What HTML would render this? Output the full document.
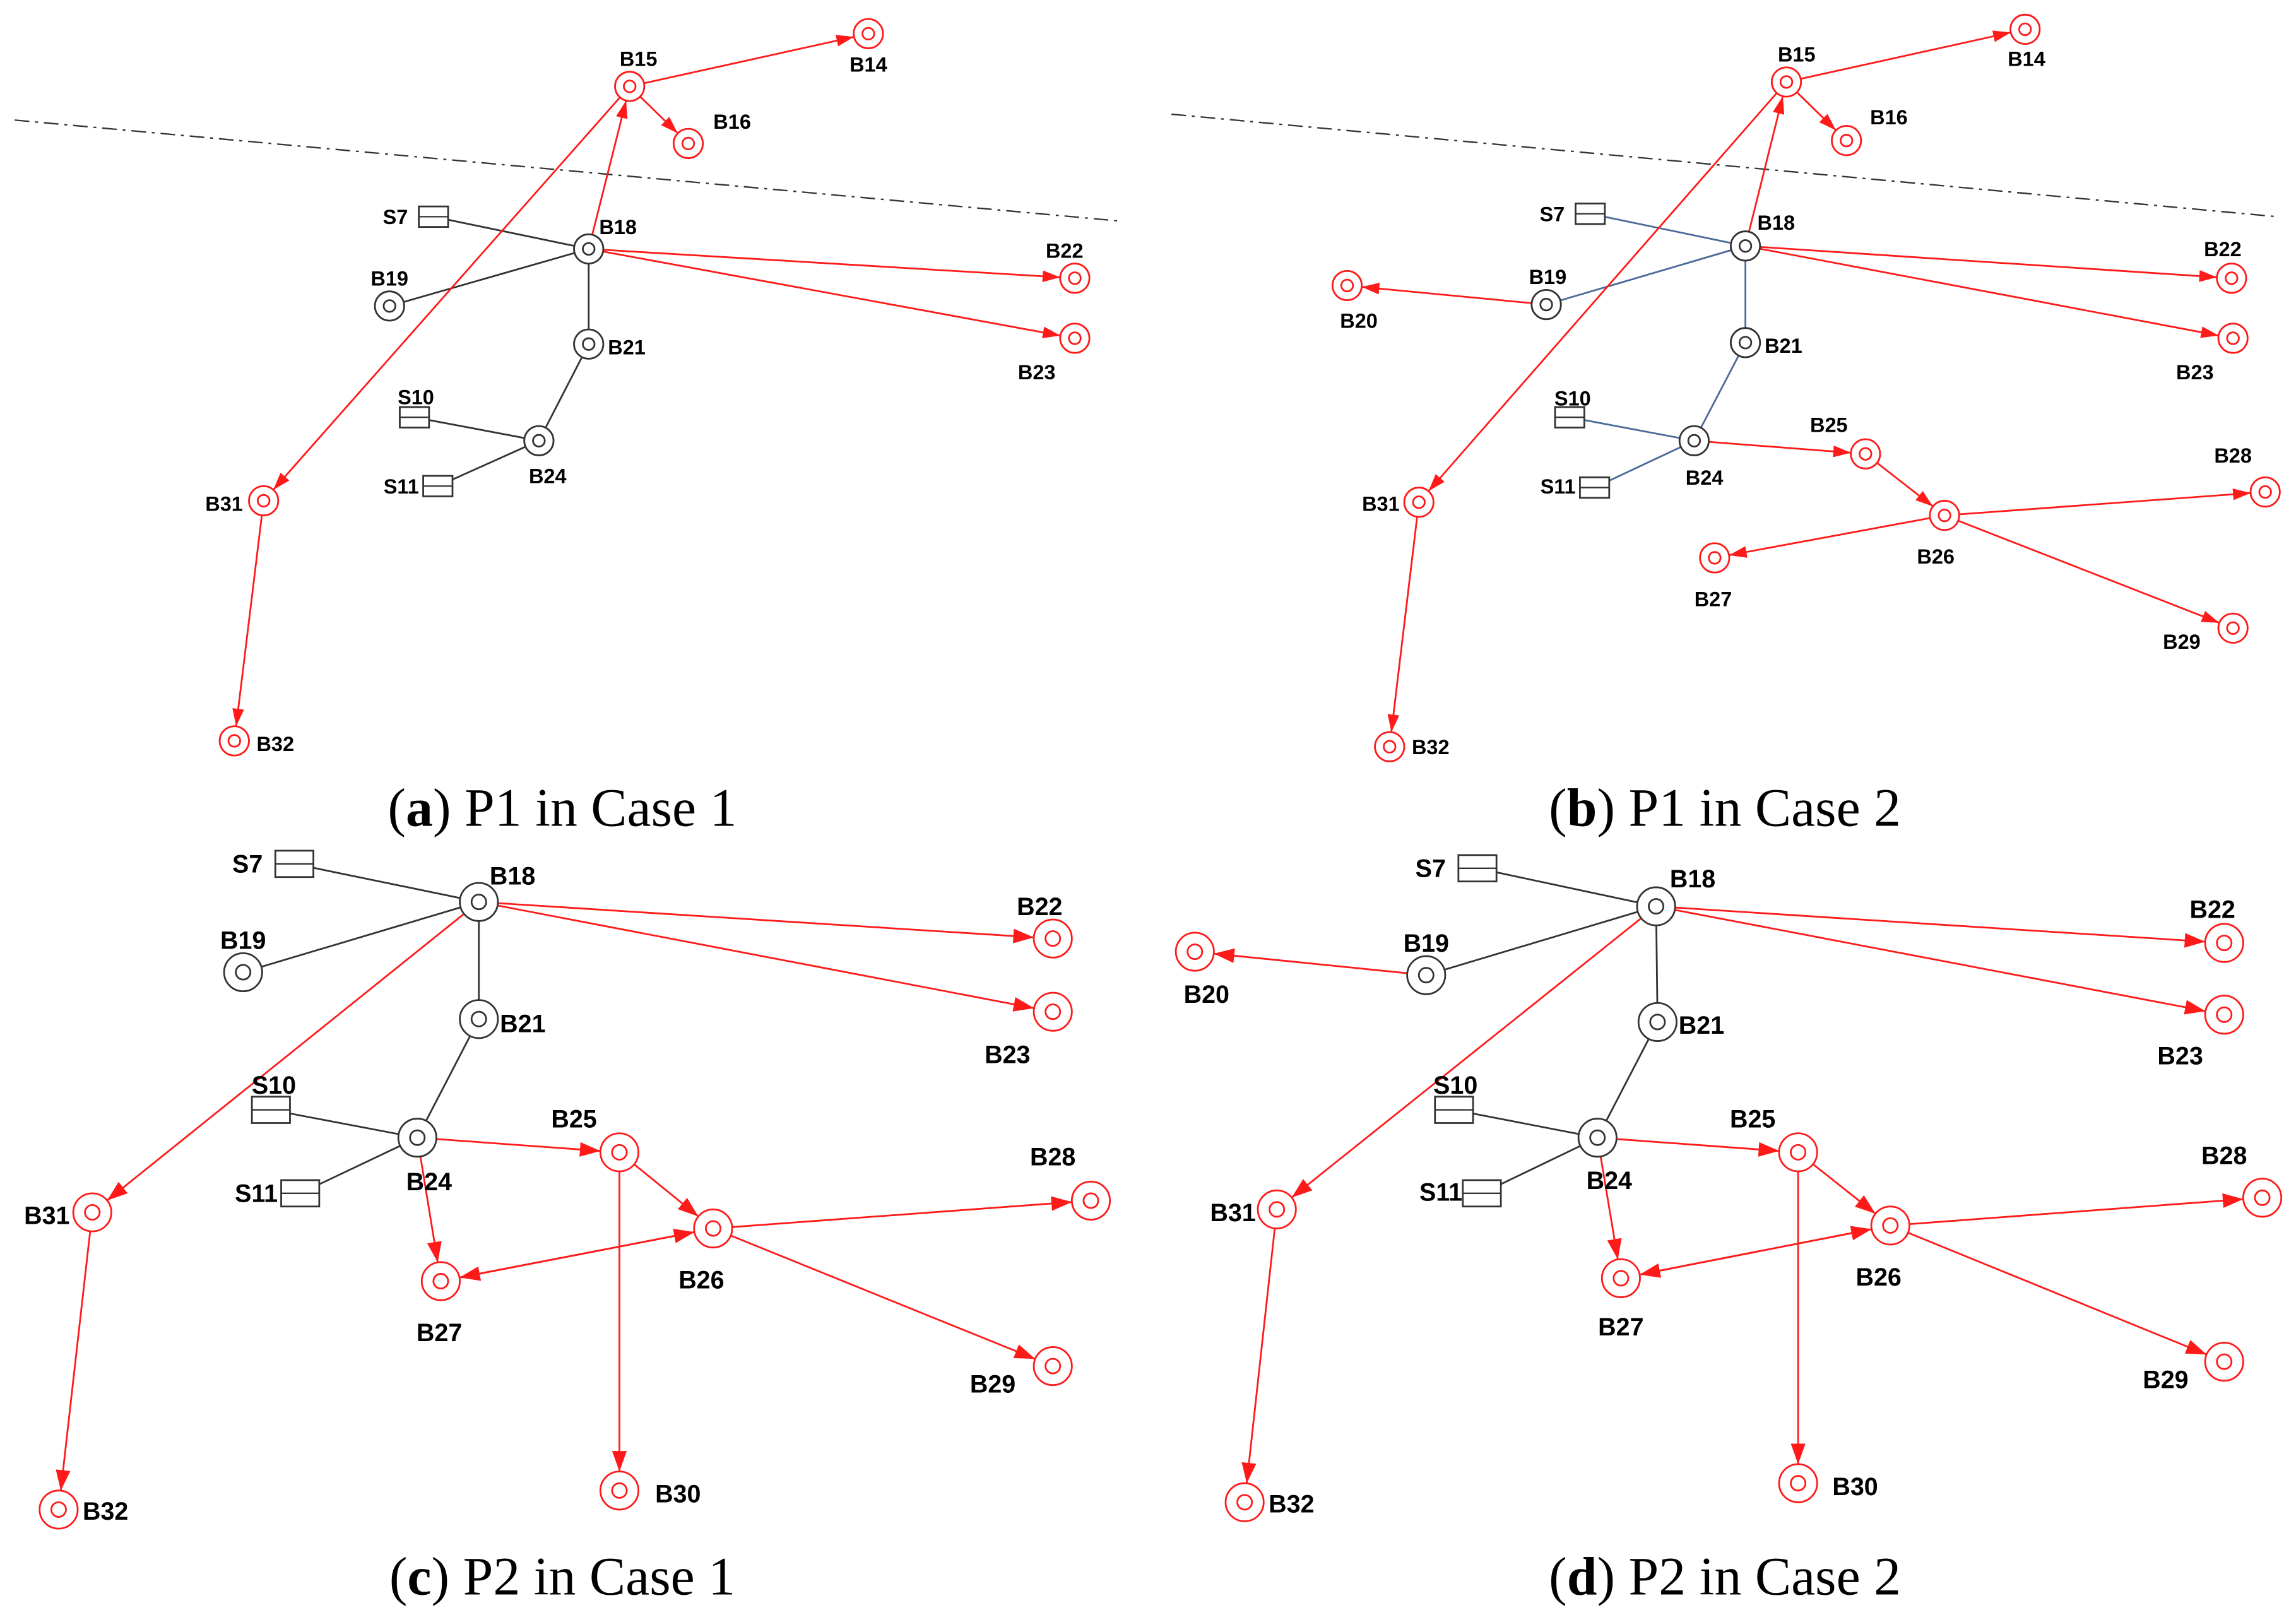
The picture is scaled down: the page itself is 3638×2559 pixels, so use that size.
<!DOCTYPE html>
<html><head><meta charset="utf-8"><style>
html,body{margin:0;padding:0;background:#fff;}
svg{display:block;}
.r{stroke:#ff1a1a;stroke-width:1.2;fill:none;}
.k{stroke:#333;stroke-width:1.2;fill:none;}
.bl{stroke:#4a6a9a;stroke-width:1.2;fill:none;}
.n1{fill:#fff;stroke:#ff1a1a;stroke-width:1.2;}
.g1{fill:#fff;stroke:#333;stroke-width:1.2;}
.sq{fill:#fff;stroke:#333;stroke-width:1.2;}
.t1{font-family:"Liberation Sans Narrow","Liberation Sans",sans-serif;font-weight:bold;font-size:14px;text-anchor:middle;fill:#000;}
.t2{font-family:"Liberation Sans Narrow","Liberation Sans",sans-serif;font-weight:bold;font-size:17px;text-anchor:middle;fill:#000;}
.cap{font-family:"Liberation Serif",serif;font-size:37px;text-anchor:middle;fill:#000;}
</style></head><body>
<svg width="3638" height="2559" viewBox="0 0 1568 1103" xmlns="http://www.w3.org/2000/svg">
<defs>
<marker id="a1" markerUnits="userSpaceOnUse" markerWidth="12" markerHeight="8" refX="22" refY="4" orient="auto" overflow="visible"><path d="M0,0 L12,4 L0,8 z" fill="#ff1a1a"/></marker>
<marker id="a2" markerUnits="userSpaceOnUse" markerWidth="14" markerHeight="10" refX="27" refY="5" orient="auto" overflow="visible"><path d="M0,0 L14,5 L0,10 z" fill="#ff1a1a"/></marker>
</defs>
<rect width="1568" height="1103" fill="#fff"/>

<!-- Panel a -->
<line x1="10" y1="82" x2="765" y2="151" stroke="#333" stroke-width="1" stroke-dasharray="10,4,2,4"/>
<g class="k">
<line x1="296" y1="148" x2="402" y2="170"/><line x1="266" y1="209" x2="402" y2="170"/>
<line x1="402" y1="170" x2="402" y2="235"/><line x1="402" y1="235" x2="368" y2="301"/>
<line x1="283" y1="285" x2="368" y2="301"/><line x1="299" y1="332" x2="368" y2="301"/>
</g>
<g class="r" marker-end="url(#a1)">
<line x1="430" y1="59" x2="593" y2="23"/><line x1="430" y1="59" x2="470" y2="98"/>
<line x1="402" y1="170" x2="430" y2="59"/><line x1="430" y1="59" x2="180" y2="342"/>
<line x1="180" y1="342" x2="160" y2="506"/><line x1="402" y1="170" x2="734" y2="190"/>
<line x1="402" y1="170" x2="734" y2="231"/>
</g>
<g>
<rect class="sq" x="286" y="141" width="20" height="14"/><line x1="286" y1="148" x2="306" y2="148" stroke="#333"/>
<rect class="sq" x="273" y="278" width="20" height="14"/><line x1="273" y1="285" x2="293" y2="285" stroke="#333"/>
<rect class="sq" x="289" y="325" width="20" height="14"/><line x1="289" y1="332" x2="309" y2="332" stroke="#333"/>
</g>
<g class="g1">
<circle cx="402" cy="170" r="10"/><circle cx="402" cy="170" r="4"/>
<circle cx="266" cy="209" r="10"/><circle cx="266" cy="209" r="4"/>
<circle cx="402" cy="235" r="10"/><circle cx="402" cy="235" r="4"/>
<circle cx="368" cy="301" r="10"/><circle cx="368" cy="301" r="4"/>
</g>
<g class="n1">
<circle cx="430" cy="59" r="10"/><circle cx="430" cy="59" r="4"/>
<circle cx="593" cy="23" r="10"/><circle cx="593" cy="23" r="4"/>
<circle cx="470" cy="98" r="10"/><circle cx="470" cy="98" r="4"/>
<circle cx="734" cy="190" r="10"/><circle cx="734" cy="190" r="4"/>
<circle cx="734" cy="231" r="10"/><circle cx="734" cy="231" r="4"/>
<circle cx="180" cy="342" r="10"/><circle cx="180" cy="342" r="4"/>
<circle cx="160" cy="506" r="10"/><circle cx="160" cy="506" r="4"/>
</g>
<g class="t1">
<text x="436" y="45">B15</text><text x="593" y="49">B14</text><text x="500" y="88">B16</text>
<text x="270" y="153">S7</text><text x="422" y="160">B18</text><text x="266" y="195">B19</text>
<text x="727" y="176">B22</text><text x="708" y="259">B23</text><text x="428" y="242">B21</text>
<text x="284" y="276">S10</text><text x="374" y="330">B24</text><text x="274" y="337">S11</text>
<text x="153" y="349">B31</text><text x="188" y="513">B32</text>
</g>
<text class="cap" x="384" y="564">(<tspan font-weight="bold">a</tspan>) P1 in Case 1</text>

<!-- Panel b -->
<line x1="800" y1="78" x2="1555" y2="148" stroke="#333" stroke-width="1" stroke-dasharray="10,4,2,4"/>
<g class="bl">
<line x1="1086" y1="146" x2="1192" y2="168"/><line x1="1056" y1="208" x2="1192" y2="168"/>
<line x1="1192" y1="168" x2="1192" y2="234"/><line x1="1192" y1="234" x2="1157" y2="301"/>
<line x1="1072" y1="285" x2="1157" y2="301"/><line x1="1089" y1="333" x2="1157" y2="301"/>
</g>
<g class="r" marker-end="url(#a1)">
<line x1="1220" y1="56" x2="1383" y2="20"/><line x1="1220" y1="56" x2="1261" y2="96"/>
<line x1="1192" y1="168" x2="1220" y2="56"/><line x1="1220" y1="56" x2="969" y2="343"/>
<line x1="969" y1="343" x2="949" y2="510"/><line x1="1192" y1="168" x2="1524" y2="190"/>
<line x1="1192" y1="168" x2="1525" y2="231"/><line x1="1056" y1="208" x2="920" y2="195"/>
<line x1="1157" y1="301" x2="1274" y2="310"/><line x1="1274" y1="310" x2="1328" y2="352"/>
<line x1="1328" y1="352" x2="1171" y2="381"/><line x1="1328" y1="352" x2="1547" y2="336"/>
<line x1="1328" y1="352" x2="1525" y2="429"/>
</g>
<g>
<rect class="sq" x="1076" y="139" width="20" height="14"/><line x1="1076" y1="146" x2="1096" y2="146" stroke="#333"/>
<rect class="sq" x="1062" y="278" width="20" height="14"/><line x1="1062" y1="285" x2="1082" y2="285" stroke="#333"/>
<rect class="sq" x="1079" y="326" width="20" height="14"/><line x1="1079" y1="333" x2="1099" y2="333" stroke="#333"/>
</g>
<g class="g1">
<circle cx="1192" cy="168" r="10"/><circle cx="1192" cy="168" r="4"/>
<circle cx="1056" cy="208" r="10"/><circle cx="1056" cy="208" r="4"/>
<circle cx="1192" cy="234" r="10"/><circle cx="1192" cy="234" r="4"/>
<circle cx="1157" cy="301" r="10"/><circle cx="1157" cy="301" r="4"/>
</g>
<g class="n1">
<circle cx="1220" cy="56" r="10"/><circle cx="1220" cy="56" r="4"/>
<circle cx="1383" cy="20" r="10"/><circle cx="1383" cy="20" r="4"/>
<circle cx="1261" cy="96" r="10"/><circle cx="1261" cy="96" r="4"/>
<circle cx="920" cy="195" r="10"/><circle cx="920" cy="195" r="4"/>
<circle cx="1524" cy="190" r="10"/><circle cx="1524" cy="190" r="4"/>
<circle cx="1525" cy="231" r="10"/><circle cx="1525" cy="231" r="4"/>
<circle cx="1274" cy="310" r="10"/><circle cx="1274" cy="310" r="4"/>
<circle cx="1328" cy="352" r="10"/><circle cx="1328" cy="352" r="4"/>
<circle cx="1171" cy="381" r="10"/><circle cx="1171" cy="381" r="4"/>
<circle cx="1547" cy="336" r="10"/><circle cx="1547" cy="336" r="4"/>
<circle cx="1525" cy="429" r="10"/><circle cx="1525" cy="429" r="4"/>
<circle cx="969" cy="343" r="10"/><circle cx="969" cy="343" r="4"/>
<circle cx="949" cy="510" r="10"/><circle cx="949" cy="510" r="4"/>
</g>
<g class="t1">
<text x="1227" y="42">B15</text><text x="1384" y="45">B14</text><text x="1290" y="85">B16</text>
<text x="1060" y="151">S7</text><text x="1213" y="157">B18</text><text x="1057" y="194">B19</text>
<text x="928" y="224">B20</text><text x="1518" y="175">B22</text><text x="1499" y="259">B23</text>
<text x="1218" y="241">B21</text><text x="1074" y="277">S10</text><text x="1164" y="331">B24</text>
<text x="1064" y="337">S11</text><text x="1249" y="295">B25</text><text x="1322" y="385">B26</text>
<text x="1170" y="414">B27</text><text x="1525" y="316">B28</text><text x="1490" y="443">B29</text>
<text x="943" y="349">B31</text><text x="977" y="515">B32</text>
</g>
<text class="cap" x="1178" y="564">(<tspan font-weight="bold">b</tspan>) P1 in Case 2</text>

<!-- Panel c -->
<g class="k">
<line x1="201" y1="590" x2="327" y2="616"/><line x1="166" y1="664" x2="327" y2="616"/>
<line x1="327" y1="616" x2="327" y2="696"/><line x1="327" y1="696" x2="285" y2="777"/>
<line x1="185" y1="758" x2="285" y2="777"/><line x1="205" y1="815" x2="285" y2="777"/>
</g>
<g class="r" marker-end="url(#a2)">
<line x1="327" y1="616" x2="63" y2="828"/><line x1="63" y1="828" x2="40" y2="1031"/>
<line x1="327" y1="616" x2="719" y2="641"/><line x1="327" y1="616" x2="719" y2="691"/>
<line x1="285" y1="777" x2="423" y2="787"/><line x1="285" y1="777" x2="301" y2="875"/>
<line x1="423" y1="787" x2="487" y2="839"/><line x1="423" y1="787" x2="423" y2="1018"/>
<line x1="487" y1="839" x2="301" y2="875"/><line x1="301" y1="875" x2="487" y2="839"/>
<line x1="487" y1="839" x2="745" y2="820"/><line x1="487" y1="839" x2="719" y2="933"/>
</g>
<g>
<rect class="sq" x="188" y="581" width="26" height="18"/><line x1="188" y1="590" x2="214" y2="590" stroke="#333"/>
<rect class="sq" x="172" y="749" width="26" height="18"/><line x1="172" y1="758" x2="198" y2="758" stroke="#333"/>
<rect class="sq" x="192" y="806" width="26" height="18"/><line x1="192" y1="815" x2="218" y2="815" stroke="#333"/>
</g>
<g class="g1">
<circle cx="327" cy="616" r="13"/><circle cx="327" cy="616" r="5"/>
<circle cx="166" cy="664" r="13"/><circle cx="166" cy="664" r="5"/>
<circle cx="327" cy="696" r="13"/><circle cx="327" cy="696" r="5"/>
<circle cx="285" cy="777" r="13"/><circle cx="285" cy="777" r="5"/>
</g>
<g class="n1">
<circle cx="719" cy="641" r="13"/><circle cx="719" cy="641" r="5"/>
<circle cx="719" cy="691" r="13"/><circle cx="719" cy="691" r="5"/>
<circle cx="423" cy="787" r="13"/><circle cx="423" cy="787" r="5"/>
<circle cx="487" cy="839" r="13"/><circle cx="487" cy="839" r="5"/>
<circle cx="301" cy="875" r="13"/><circle cx="301" cy="875" r="5"/>
<circle cx="745" cy="820" r="13"/><circle cx="745" cy="820" r="5"/>
<circle cx="719" cy="933" r="13"/><circle cx="719" cy="933" r="5"/>
<circle cx="423" cy="1018" r="13"/><circle cx="423" cy="1018" r="5"/>
<circle cx="63" cy="828" r="13"/><circle cx="63" cy="828" r="5"/>
<circle cx="40" cy="1031" r="13"/><circle cx="40" cy="1031" r="5"/>
</g>
<g class="t2">
<text x="169" y="596">S7</text><text x="350" y="604">B18</text><text x="166" y="648">B19</text>
<text x="710" y="625">B22</text><text x="688" y="726">B23</text><text x="357" y="705">B21</text>
<text x="187" y="747">S10</text><text x="293" y="813">B24</text><text x="175" y="821">S11</text>
<text x="392" y="770">B25</text><text x="479" y="880">B26</text><text x="300" y="916">B27</text>
<text x="719" y="796">B28</text><text x="678" y="951">B29</text><text x="463" y="1026">B30</text>
<text x="32" y="836">B31</text><text x="72" y="1038">B32</text>
</g>
<text class="cap" x="384" y="1089">(<tspan font-weight="bold">c</tspan>) P2 in Case 1</text>

<!-- Panel d -->
<g class="k">
<line x1="1009" y1="593" x2="1131" y2="619"/><line x1="974" y1="666" x2="1131" y2="619"/>
<line x1="1131" y1="619" x2="1132" y2="698"/><line x1="1132" y1="698" x2="1091" y2="777"/>
<line x1="993" y1="758" x2="1091" y2="777"/><line x1="1012" y1="815" x2="1091" y2="777"/>
</g>
<g class="r" marker-end="url(#a2)">
<line x1="1131" y1="619" x2="872" y2="826"/><line x1="872" y1="826" x2="850" y2="1026"/>
<line x1="1131" y1="619" x2="1519" y2="644"/><line x1="1131" y1="619" x2="1519" y2="693"/>
<line x1="974" y1="666" x2="816" y2="650"/>
<line x1="1091" y1="777" x2="1228" y2="787"/><line x1="1091" y1="777" x2="1107" y2="873"/>
<line x1="1228" y1="787" x2="1291" y2="837"/><line x1="1228" y1="787" x2="1228" y2="1013"/>
<line x1="1291" y1="837" x2="1107" y2="873"/><line x1="1107" y1="873" x2="1291" y2="837"/>
<line x1="1291" y1="837" x2="1545" y2="818"/><line x1="1291" y1="837" x2="1519" y2="930"/>
</g>
<g>
<rect class="sq" x="996" y="584" width="26" height="18"/><line x1="996" y1="593" x2="1022" y2="593" stroke="#333"/>
<rect class="sq" x="980" y="749" width="26" height="18"/><line x1="980" y1="758" x2="1006" y2="758" stroke="#333"/>
<rect class="sq" x="999" y="806" width="26" height="18"/><line x1="999" y1="815" x2="1025" y2="815" stroke="#333"/>
</g>
<g class="g1">
<circle cx="1131" cy="619" r="13"/><circle cx="1131" cy="619" r="5"/>
<circle cx="974" cy="666" r="13"/><circle cx="974" cy="666" r="5"/>
<circle cx="1132" cy="698" r="13"/><circle cx="1132" cy="698" r="5"/>
<circle cx="1091" cy="777" r="13"/><circle cx="1091" cy="777" r="5"/>
</g>
<g class="n1">
<circle cx="816" cy="650" r="13"/><circle cx="816" cy="650" r="5"/>
<circle cx="1519" cy="644" r="13"/><circle cx="1519" cy="644" r="5"/>
<circle cx="1519" cy="693" r="13"/><circle cx="1519" cy="693" r="5"/>
<circle cx="1228" cy="787" r="13"/><circle cx="1228" cy="787" r="5"/>
<circle cx="1291" cy="837" r="13"/><circle cx="1291" cy="837" r="5"/>
<circle cx="1107" cy="873" r="13"/><circle cx="1107" cy="873" r="5"/>
<circle cx="1545" cy="818" r="13"/><circle cx="1545" cy="818" r="5"/>
<circle cx="1519" cy="930" r="13"/><circle cx="1519" cy="930" r="5"/>
<circle cx="1228" cy="1013" r="13"/><circle cx="1228" cy="1013" r="5"/>
<circle cx="872" cy="826" r="13"/><circle cx="872" cy="826" r="5"/>
<circle cx="850" cy="1026" r="13"/><circle cx="850" cy="1026" r="5"/>
</g>
<g class="t2">
<text x="977" y="599">S7</text><text x="1156" y="606">B18</text><text x="974" y="650">B19</text>
<text x="824" y="685">B20</text><text x="1511" y="627">B22</text><text x="1489" y="727">B23</text>
<text x="1162" y="706">B21</text><text x="994" y="747">S10</text><text x="1099" y="812">B24</text>
<text x="984" y="820">S11</text><text x="1197" y="770">B25</text><text x="1283" y="878">B26</text>
<text x="1107" y="912">B27</text><text x="1519" y="795">B28</text><text x="1479" y="948">B29</text>
<text x="1267" y="1021">B30</text><text x="842" y="834">B31</text><text x="882" y="1033">B32</text>
</g>
<text class="cap" x="1178" y="1089">(<tspan font-weight="bold">d</tspan>) P2 in Case 2</text>
</svg>
</body></html>
